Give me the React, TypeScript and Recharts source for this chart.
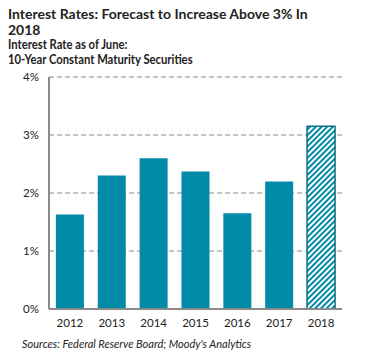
import { BarChart, Bar, XAxis, YAxis, CartesianGrid, Cell, ReferenceLine } from 'recharts'

const years = ['2012', '2013', '2014', '2015', '2016', '2017', '2018']
const rates = [1.63, 2.3, 2.6, 2.37, 1.65, 2.2, 3.15]
const forecastYears = ['2018']
const yTicks = [0, 1, 2, 3, 4]

const titleLines = ['Interest Rates: Forecast to Increase Above 3% In', '2018']
const subtitleLines = ['Interest Rate as of June:', '10-Year Constant Maturity Securities']
const source = "Sources: Federal Reserve Board; Moody's Analytics"

const TEAL = '#018ba8'
const TEAL_DARK = '#0c6d84'

const data = years.map((year, i) => ({ year, rate: rates[i] }))

export default function App() {
  return (
    <div style={{ position: 'absolute', left: 0, top: 0, width: 370, height: 363, background: '#fff' }}>
      <div
        style={{
          position: 'absolute',
          left: 8,
          top: 6,
          fontFamily: 'Lato, sans-serif',
          fontWeight: 700,
          fontSize: 14,
          lineHeight: '16px',
          color: '#222',
          whiteSpace: 'nowrap',
        }}
      >
        {titleLines.map((t) => (
          <div key={t}>{t}</div>
        ))}
      </div>
      <div
        style={{
          position: 'absolute',
          left: 8,
          top: 38,
          fontFamily: 'Lato, sans-serif',
          fontWeight: 700,
          fontSize: 12.5,
          lineHeight: '14.5px',
          color: '#222',
          whiteSpace: 'nowrap',
          transform: 'scaleX(0.9)',
          transformOrigin: 'left top',
        }}
      >
        {subtitleLines.map((t) => (
          <div key={t}>{t}</div>
        ))}
      </div>
      <BarChart
        width={370}
        height={363}
        data={data}
        margin={{ top: 77, right: 28, bottom: 24, left: 9 }}
        barCategoryGap="16.5%"
      >
        <defs>
          <pattern id="hatch" width="4" height="4" patternUnits="userSpaceOnUse" patternTransform="rotate(45)">
            <rect width="4" height="4" fill="#fff" />
            <rect width="2" height="4" fill={TEAL} />
          </pattern>
        </defs>
        <CartesianGrid vertical={false} stroke="#8a8a8a" strokeDasharray="5 3" />
        <XAxis
          dataKey="year"
          height={30}
          tickLine={false}
          axisLine={{ stroke: '#8a8a8a', strokeWidth: 2 }}
          tick={{ fill: '#222', fontSize: 11.5, fontFamily: 'Lato, sans-serif' }}
          tickMargin={4}
        />
        <YAxis
          width={40}
          domain={[0, 4]}
          ticks={yTicks}
          tickFormatter={(v: number) => `${v}%`}
          tickLine={false}
          axisLine={{ stroke: '#8a8a8a', strokeWidth: 2 }}
          tick={{ fill: '#222', fontSize: 11.5, fontFamily: 'Lato, sans-serif' }}
          tickMargin={4}
        />
        <Bar dataKey="rate" isAnimationActive={false}>
          {data.map((d) =>
            forecastYears.includes(d.year) ? (
              <Cell key={d.year} fill="url(#hatch)" stroke={TEAL_DARK} strokeWidth={1.5} />
            ) : (
              <Cell key={d.year} fill={TEAL} />
            )
          )}
        </Bar>
        <ReferenceLine y={0} stroke="#8a8a8a" strokeWidth={2} />
      </BarChart>
      <div
        style={{
          position: 'absolute',
          left: 22,
          top: 337,
          fontFamily: 'Lato, sans-serif',
          fontStyle: 'italic',
          fontSize: 11,
          color: '#222',
          whiteSpace: 'nowrap',
        }}
      >
        {source}
      </div>
    </div>
  )
}
